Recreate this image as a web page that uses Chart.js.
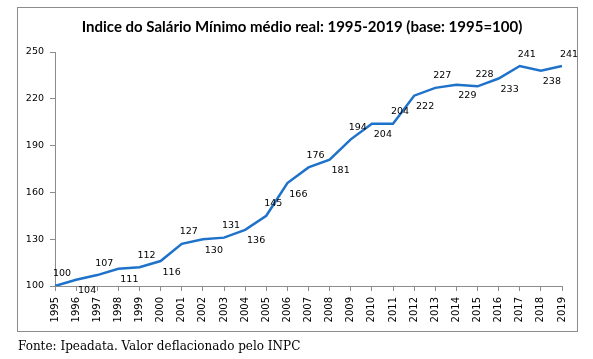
<!DOCTYPE html>
<html>
<head>
<meta charset="utf-8">
<script src="https://cdn.jsdelivr.net/npm/chart.js@4.4.1/dist/chart.umd.min.js"></script>
<style>
  html, body { margin: 0; padding: 0; background: #fff; }
  #wrap { position: relative; width: 593px; height: 359px; }
  #c { position: absolute; left: 0; top: 0; }
  #src { position: absolute; left: 18px; top: 339px; font-family: "DejaVu Serif", "Liberation Serif", serif; font-size: 12px; color: #000; white-space: nowrap; }
</style>
</head>
<body>
<div id="wrap">
  <canvas id="c" width="593" height="359"></canvas>
  <div id="src">Fonte: Ipeadata. Valor deflacionado pelo INPC</div>
</div>
<script>
const titleText = "Indice do Salário Mínimo médio real: 1995-2019 (base: 1995=100)";
const years = ["1995","1996","1997","1998","1999","2000","2001","2002","2003","2004","2005","2006","2007","2008","2009","2010","2011","2012","2013","2014","2015","2016","2017","2018","2019"];
const indexValues = [100,104,107,111,112,116,127,130,131,136,145,166,176,181,194,204,204,222,227,229,228,233,241,238,241];
const yTicks = [100,130,160,190,220,250];

const axisColor = "#8c8c8c";
const lineColor = "#1f72c9";

const framePlugin = {
  id: "frame",
  beforeDraw(chart) {
    const ctx = chart.ctx;
    ctx.save();
    ctx.fillStyle = "#fff";
    ctx.fillRect(0, 0, chart.width, chart.height);
    ctx.strokeStyle = "#8c8c8c";
    ctx.lineWidth = 1;
    ctx.strokeRect(17.5, 7.5, 560, 324);
    ctx.fillStyle = "#000";
    ctx.font = "bold 15px Lato";
    ctx.textAlign = "center";
    ctx.textBaseline = "middle";
    ctx.fillText(titleText, 302, 27);
    ctx.restore();
  }
};

const labelPlugin = {
  id: "pointLabels",
  afterDatasetsDraw(chart) {
    const ctx = chart.ctx;
    const meta = chart.getDatasetMeta(0);
    const data = chart.data.datasets[0].data;
    ctx.save();
    ctx.font = "9.5px 'DejaVu Sans'";
    ctx.fillStyle = "#000";
    ctx.textAlign = "center";
    ctx.textBaseline = "middle";
    meta.data.forEach((pt, i) => {
      const above = i % 2 === 0;
      const dx = above ? 7 : 11;
      const dy = above ? -12 : 11;
      ctx.fillText(String(data[i]), pt.x + dx, pt.y + dy);
    });
    ctx.restore();
  }
};

new Chart(document.getElementById("c"), {
  type: "line",
  data: {
    labels: years,
    datasets: [{
      data: indexValues,
      borderColor: lineColor,
      borderWidth: 2.5,
      pointRadius: 0,
      tension: 0,
      fill: false
    }]
  },
  options: {
    responsive: false,
    animation: false,
    layout: { padding: { left: 0, right: 31, top: 52, bottom: 0 } },
    plugins: {
      legend: { display: false },
      tooltip: { enabled: false },
      title: { display: false }
    },
    scales: {
      x: {
        offset: false,
        afterFit(scale) { scale.height = 73; },
        grid: { display: true, drawOnChartArea: false, drawTicks: true, tickLength: 5, color: axisColor },
        border: { display: true, color: axisColor, width: 1 },
        ticks: {
          autoSkip: false,
          minRotation: 90,
          maxRotation: 90,
          padding: 6,
          color: "#000",
          font: { family: "DejaVu Sans", size: 10 }
        }
      },
      y: {
        min: 100,
        max: 250,
        afterFit(scale) { scale.width = 55; },
        afterBuildTicks(scale) { scale.ticks = yTicks.map(v => ({ value: v })); },
        grid: { display: true, drawOnChartArea: false, drawTicks: true, tickLength: 5, color: axisColor },
        border: { display: true, color: axisColor, width: 1 },
        ticks: {
          padding: 6,
          color: "#000",
          font: { family: "DejaVu Sans", size: 9.5 }
        }
      }
    }
  },
  plugins: [framePlugin, labelPlugin]
});
</script>
</body>
</html>
